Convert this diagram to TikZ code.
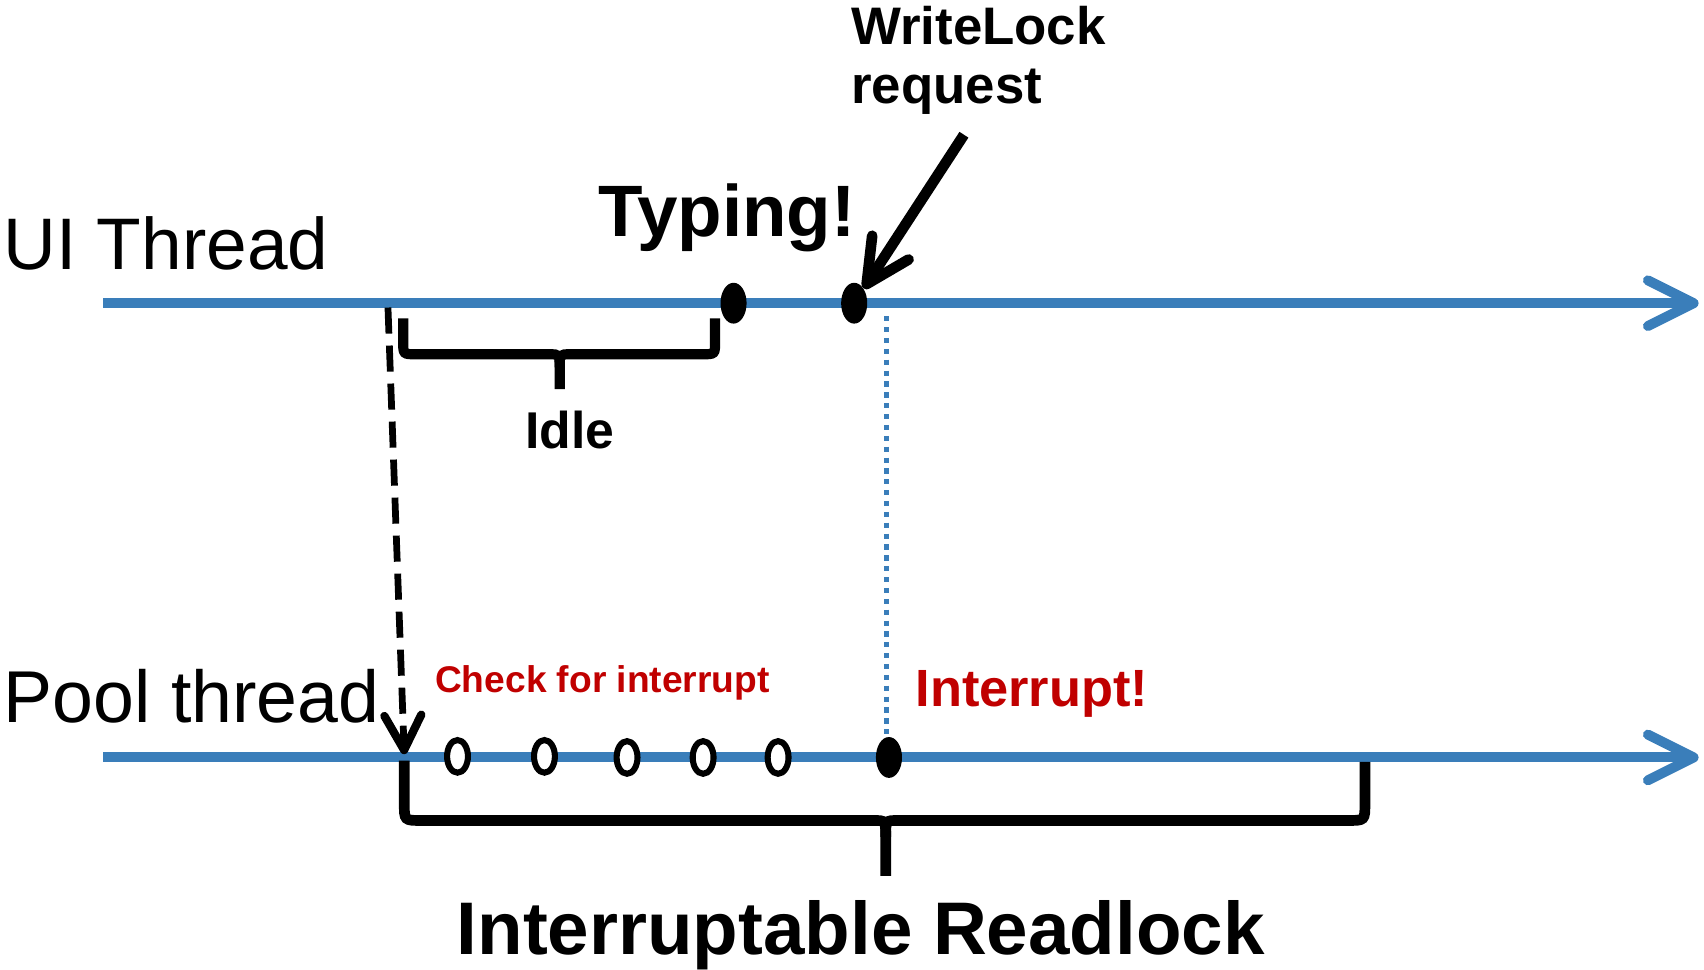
\documentclass[tikz,border=0pt]{standalone}
\usepackage{fontspec}
\setmainfont{Liberation Sans}
\usetikzlibrary{arrows.meta,shapes.geometric}
\definecolor{tblue}{RGB}{58,126,186}
\definecolor{tred}{RGB}{192,0,0}
\begin{document}
\begin{tikzpicture}[x=0.5pt,y=-0.5pt,
  timeline/.style={draw=tblue, line width=4.6pt, -{Straight Barb[length=21pt,width=21pt,round]}},
  lbl/.style={anchor=base west, inner sep=0pt},
  fdot/.style={ellipse, fill=black, inner sep=0pt, minimum width=12pt, minimum height=18.8pt},
  odot/.style={ellipse, draw=black, fill=white, line width=2.8pt, inner sep=0pt, minimum width=9.6pt, minimum height=15pt},
  bracepath/.style={draw=black, line width=4.7pt},
  thinline/.style={draw=tblue, line width=2.4pt, dash pattern=on 2.4pt off 2.6pt},
]
\useasboundingbox (0,0) rectangle (1568,892);
% timelines
\coordinate (uiS) at (95,279);
\coordinate (uiE) at (1563,279);
\coordinate (plS) at (95,697);
\coordinate (plE) at (1563,697);
\draw[timeline] (uiS) -- (uiE);
\draw[timeline] (plS) -- (plE);
% labels
\node[lbl, font=\fontsize{33.6pt}{40pt}\selectfont] (uil) at (3,248) {UI Thread};
\node[lbl, font=\fontsize{33.8pt}{40pt}\selectfont] (pll) at (3,665) {Pool thread};
\node[lbl, font=\bfseries\fontsize{33.5pt}{40pt}\selectfont] (typ) at (550,218) {Typing!};
\node[anchor=north west, inner sep=0pt, align=left, font=\bfseries\fontsize{24.3pt}{27.5pt}\selectfont] (wlr) at (783,5) {WriteLock\\request};
\node[lbl, font=\bfseries\fontsize{23.8pt}{28pt}\selectfont] (idl) at (483,413) {Idle};
\node[lbl, text=tred, font=\bfseries\fontsize{17.1pt}{20pt}\selectfont] (chk) at (400,637) {Check for interrupt};
\node[lbl, text=tred, font=\bfseries\fontsize{24.1pt}{28pt}\selectfont] (intr) at (842,650) {Interrupt!};
\node[lbl, font=\bfseries\fontsize{34.3pt}{40pt}\selectfont] (irl) at (420,878) {Interruptable Readlock};
% braces
\draw[bracepath] (371,293) -- (371,314) .. controls (371,326) .. (383,326) -- (505,326) .. controls (515,326) .. (515,338) -- (515,358);
\draw[bracepath] (658,293) -- (658,314) .. controls (658,326) .. (646,326) -- (525,326) .. controls (515,326) .. (515,338);
\draw[bracepath, line width=4.9pt] (372,700) -- (372,739) .. controls (372,755) .. (388,755) -- (804,755) .. controls (815,755) .. (815,770) -- (815,806);
\draw[bracepath, line width=4.9pt] (1256,701) -- (1256,739) .. controls (1256,755) .. (1240,755) -- (826,755) .. controls (815,755) .. (815,770);
% dots
\node[fdot] (tdot) at (675,279) {};
\node[fdot] (wdot) at (786,279) {};
\node[fdot] (pdot) at (818,697) {};
\node[odot] (c1) at (421,696) {};
\node[odot] (c2) at (501,696) {};
\node[odot] (c3) at (577,697) {};
\node[odot] (c4) at (647,697) {};
\node[odot] (c5) at (716,697) {};
% dotted vertical
\coordinate (dtop) at (816,291);
\draw[thinline] (dtop) -- (dtop |- pdot.north);
% dashed arrow
\coordinate (dS) at (357,283);
\coordinate (dE) at (372,694);
\draw[line width=3.1pt, dash pattern=on 12pt off 5.5pt, -{Straight Barb[length=16pt,width=17pt,line width=3.8pt,round]}] (dS) -- (dE);
% writelock arrow
\coordinate (wlS) at (887,124);
\draw[line width=4.9pt, -{Straight Barb[length=20pt,width=20pt,round]}] (wlS) -- (wdot);
\end{tikzpicture}
\end{document}
